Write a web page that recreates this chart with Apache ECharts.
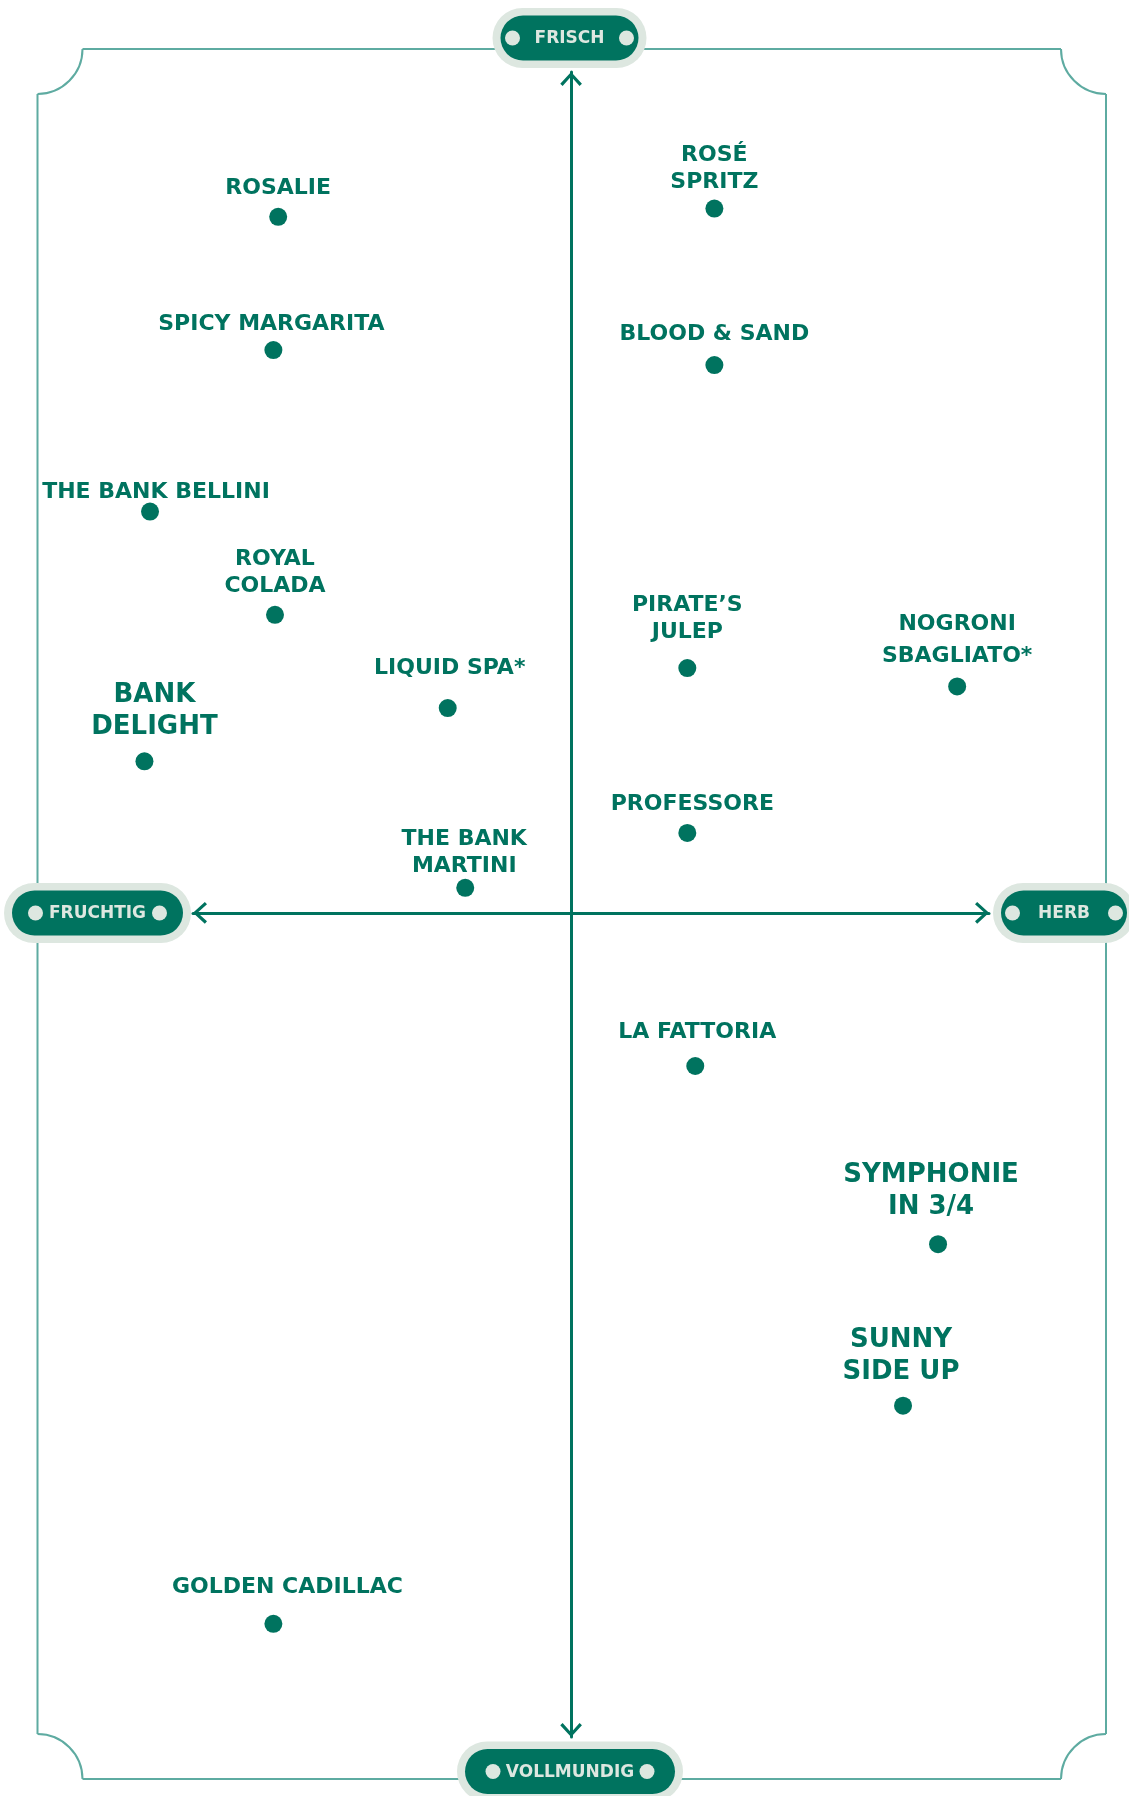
<!DOCTYPE html>
<html>
<head>
<meta charset="utf-8">
<title>Cocktail-Kompass</title>
<script src="https://cdn.jsdelivr.net/npm/echarts@6/dist/echarts.min.js"></script>
<style>
body{margin:0;padding:0;background:#fff;}
#chart{width:1129px;height:1796px;}
</style>
</head>
<body>
<div id="chart"></div>
<script>
// Cocktails: Position auf der Achse fruchtig(-) / herb(+) und vollmundig(-) / frisch(+)
var names = [
  'ROSALIE', 'SPICY MARGARITA', 'THE BANK BELLINI', 'ROYAL\nCOLADA', 'BANK\nDELIGHT',
  'LIQUID SPA*', 'THE BANK\nMARTINI', 'ROSÉ\nSPRITZ', 'BLOOD & SAND', 'PIRATE\u2019S\nJULEP',
  'NOGRONI\nSBAGLIATO*', 'PROFESSORE', 'LA FATTORIA', 'SYMPHONIE\nIN 3/4', 'SUNNY\nSIDE UP',
  'GOLDEN CADILLAC'
];
var herb = [-36.8, -37.4, -52.9, -37.2, -53.6, -15.5, -13.3, 18.0, 18.0, 14.6, 48.5, 14.6, 15.6, 46.1, 41.7, -37.4];
var frisch = [41.8, 33.8, 24.1, 17.9, 9.1, 12.3, 1.5, 42.3, 32.9, 14.7, 13.6, 4.8, -9.2, -19.9, -29.6, -42.7];
var axisNames = ['FRISCH', 'FRUCHTIG', 'HERB', 'VOLLMUNDIG'];

// groessere Schrift fuer diese Namen
var bigOnes = ['BANK\nDELIGHT', 'SYMPHONIE\nIN 3/4', 'SUNNY\nSIDE UP'];
// kleine Verschiebungen der Beschriftung (px)
var nudge = {
  'THE BANK BELLINI': [6, 9], 'BANK\nDELIGHT': [10, 0], 'SPICY MARGARITA': [-2, 3],
  'LIQUID SPA*': [2, -11], 'THE BANK\nMARTINI': [-1, 7], 'ROSÉ\nSPRITZ': [0, 2],
  'BLOOD & SAND': [0, -2], 'PIRATE\u2019S\nJULEP': [0, -7], 'NOGRONI\nSBAGLIATO*': [0, 1],
  'PROFESSORE': [5, 0], 'LA FATTORIA': [2, -5], 'SYMPHONIE\nIN 3/4': [-7, -3],
  'SUNNY\nSIDE UP': [-2, 1], 'GOLDEN CADILLAC': [14, -8]
};

var green = '#00735f';
var pale = '#dde7e0';
var frame = '#5eaba1';
var font = 'DejaVu Sans';

var pts = names.map(function (n, i) {
  var lab = {offset: nudge[n] || [0, 0]};
  if (bigOnes.indexOf(n) >= 0) { lab.fontSize = 26; lab.lineHeight = 32; lab.distance = 9; }
  if (n === 'NOGRONI\nSBAGLIATO*') { lab.lineHeight = 32; }
  return {name: n, value: [herb[i], frisch[i]], label: lab};
});

var chevron = 'path://M0,12 L11,0 L22,12 L19.6,14.2 L11,4.6 L2.4,14.2 Z';

// Rahmen mit eingezogenen Ecken
var L = 37.5, R = 1106, T = 49, B = 1779, cr = 45;
var fs = {stroke: frame, lineWidth: 2, fill: null};
function seg(x1, y1, x2, y2) {
  return {type: 'line', z: 1, shape: {x1: x1, y1: y1, x2: x2, y2: y2}, style: fs};
}
function corner(cx, cy, a) {
  return {type: 'arc', z: 1, shape: {cx: cx, cy: cy, r: cr, startAngle: a, endAngle: a + Math.PI / 2, clockwise: true}, style: fs};
}
var frameParts = [
  seg(L + cr, T, R - cr, T), seg(R, T + cr, R, B - cr),
  seg(R - cr, B, L + cr, B), seg(L, B - cr, L, T + cr),
  corner(L, T, 0), corner(R, T, Math.PI / 2),
  corner(R, B, Math.PI), corner(L, B, Math.PI * 1.5)
];

// Pillen fuer die Achsenbeschriftung
function pill(cx, cy, w, text, dx) {
  return {
    type: 'group', x: cx, y: cy, z: 100,
    children: [
      {type: 'rect', z: 100, shape: {x: -w / 2 - 8, y: -30, width: w + 16, height: 60, r: 30}, style: {fill: pale}},
      {type: 'rect', z: 101, shape: {x: -w / 2, y: -22.5, width: w, height: 45, r: 22.5}, style: {fill: green}},
      {type: 'circle', z: 102, shape: {cx: -dx, cy: 0, r: 7.5}, style: {fill: pale}},
      {type: 'circle', z: 102, shape: {cx: dx, cy: 0, r: 7.5}, style: {fill: pale}},
      {type: 'text', z: 102, x: 0, y: 1, style: {text: text, fill: pale, font: 'bold 17px "' + font + '"', textAlign: 'center', textVerticalAlign: 'middle'}}
    ]
  };
}

var chart = echarts.init(document.getElementById('chart'));
chart.setOption({
  animation: false,
  textStyle: {fontFamily: font},
  grid: {left: 193, right: 140, top: 72, bottom: 59},
  xAxis: {
    type: 'value', min: -47.5, max: 52.5,
    axisLine: {show: true, onZero: true, lineStyle: {color: green, width: 3},
      symbol: [chevron, chevron], symbolSize: [22, 14], symbolOffset: [7, -7]},
    axisTick: {show: false}, axisLabel: {show: false}, splitLine: {show: false}
  },
  yAxis: {
    type: 'value', min: -49.5, max: 50.5,
    axisLine: {show: true, onZero: true, lineStyle: {color: green, width: 3},
      symbol: [chevron, chevron], symbolSize: [22, 14], symbolOffset: [7, -7]},
    axisTick: {show: false}, axisLabel: {show: false}, splitLine: {show: false}
  },
  graphic: frameParts.concat([
    pill(569.5, 38, 138, axisNames[0], 57),
    pill(97.5, 913, 171, axisNames[1], 62),
    pill(1064, 913, 126, axisNames[2], 51.5),
    pill(570, 1771.5, 210, axisNames[3], 77)
  ]),
  series: [{
    type: 'scatter',
    clip: false,
    symbolSize: 18,
    itemStyle: {color: green, opacity: 1},
    label: {
      show: true, position: 'top', distance: 6,
      formatter: '{b}', color: green, fontFamily: font, fontWeight: 'bold',
      fontSize: 22, lineHeight: 27, align: 'center'
    },
    data: pts
  }]
});
</script>
</body>
</html>
